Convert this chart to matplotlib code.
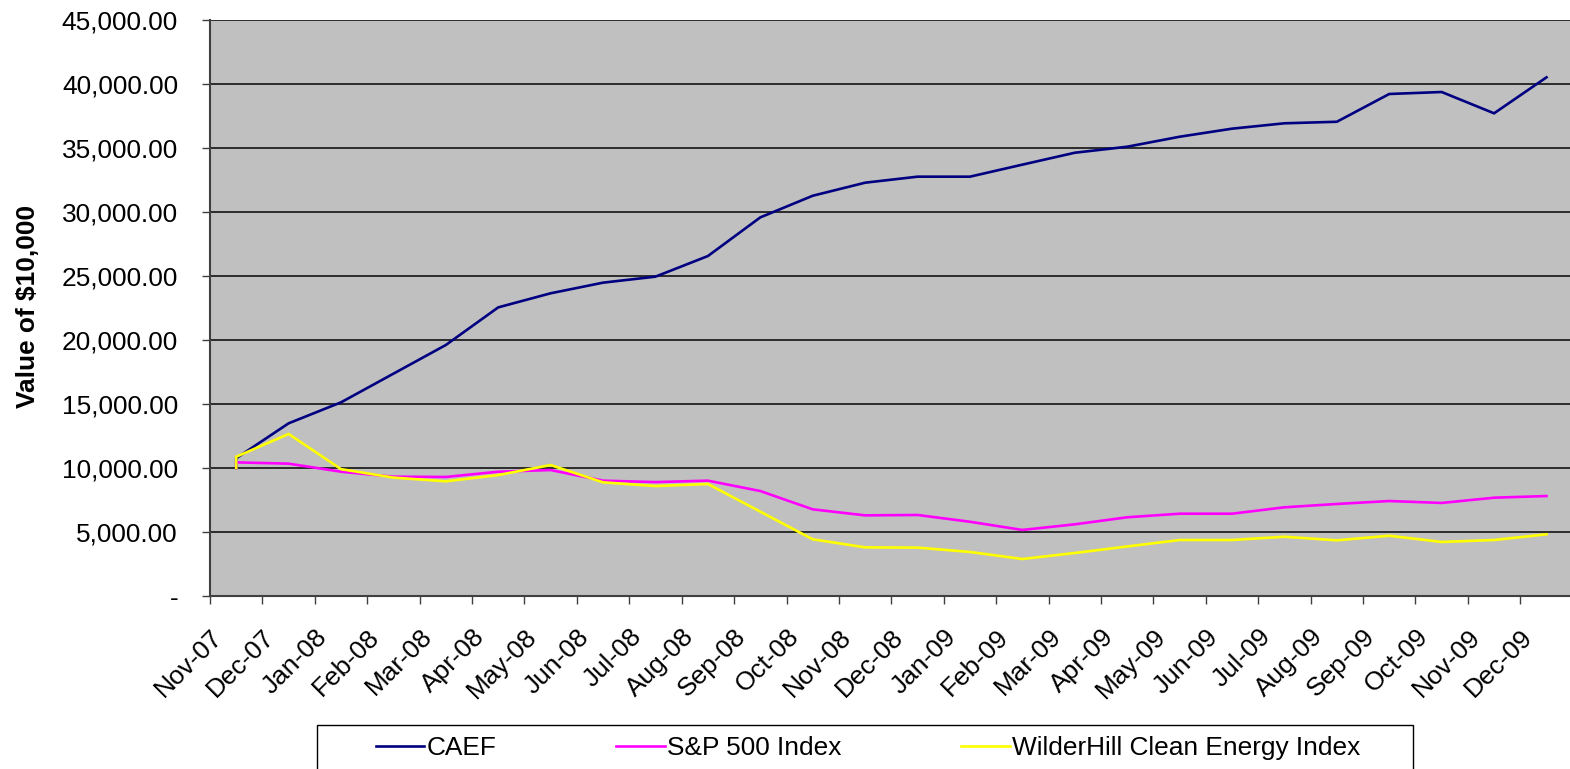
import numpy as np
import matplotlib
matplotlib.use('Agg')
import matplotlib.pyplot as plt
from matplotlib.patches import Rectangle
from matplotlib.ticker import FuncFormatter

plt.rcParams['font.family'] = ['Liberation Sans', 'DejaVu Sans']

# 月份类别
months = ['Nov-07', 'Dec-07', 'Jan-08', 'Feb-08', 'Mar-08', 'Apr-08', 'May-08',
          'Jun-08', 'Jul-08', 'Aug-08', 'Sep-08', 'Oct-08', 'Nov-08', 'Dec-08',
          'Jan-09', 'Feb-09', 'Mar-09', 'Apr-09', 'May-09', 'Jun-09', 'Jul-09',
          'Aug-09', 'Sep-09', 'Oct-09', 'Nov-09', 'Dec-09']

start_value = 10000

caef = [10760, 13490, 15130, 17370, 19610, 22550, 23650, 24480, 24950, 26560,
        29580, 31270, 32290, 32760, 32760, 33700, 34630, 35100, 35880, 36510,
        36930, 37050, 39220, 39375, 37710, 40520]
sp500 = [10440, 10340, 9710, 9320, 9300, 9710, 9840, 9010, 8900, 9010,
         8200, 6770, 6300, 6330, 5800, 5160, 5600, 6150, 6430, 6430,
         6930, 7190, 7420, 7270, 7680, 7810]
wilderhill = [10880, 12660, 9910, 9250, 8960, 9450, 10230, 8880, 8590, 8750,
              6590, 4430, 3800, 3780, 3440, 2890, 3360, 3870, 4375, 4375,
              4630, 4350, 4710, 4220, 4375, 4820]

series_names = ['CAEF', 'S&P 500 Index', 'WilderHill Clean Energy Index']
series_colors = ['#000080', '#FF00FF', '#FFFF00']

FS = 18.9

fig = plt.figure(figsize=(15.70, 7.69), dpi=100)
ax = fig.add_axes([210 / 1570, 1 - 596 / 769, 1362.7 / 1570, 576 / 769])
ax.set_facecolor('#C0C0C0')

# 第一个类别里有起始值10000和月末值两个点
x = [0] + list(range(len(months)))
handles = []
for vals, name, color in zip([caef, sp500, wilderhill], series_names, series_colors):
    h, = ax.plot(x, [start_value] + vals, color=color, lw=1.9, label=name,
                 solid_joinstyle='miter', zorder=3)
    handles.append(h)

ax.set_xlim(-0.5, len(months) - 0.5)
ax.set_ylim(0, 45000)
ax.set_yticks(np.arange(0, 45001, 5000))
ax.yaxis.set_major_formatter(FuncFormatter(lambda v, p: '-' if v == 0 else f'{v:,.2f}'))
ax.grid(axis='y', color='#202020', lw=1.3, zorder=1)
ax.set_axisbelow(True)

ax.set_xticks(np.arange(len(months)) - 0.5)
ax.set_xticklabels(months, rotation=45, ha='right', rotation_mode='anchor')

ax.tick_params(axis='y', direction='out', length=6, width=1, pad=17, labelsize=FS,
               color='#404040')
ax.tick_params(axis='x', direction='out', length=6, width=1, pad=14.5, labelsize=FS,
               color='#404040')
for s in ['top', 'right']:
    ax.spines[s].set_visible(False)
for s in ['left', 'bottom']:
    ax.spines[s].set_color('#404040')
    ax.spines[s].set_linewidth(1.5)

fig.text(28 / 1570, 1 - 306 / 769, 'Value of $10,000', rotation=90, fontsize=FS,
         fontweight='bold', ha='center', va='center')

# 图例外框
fig.patches.append(Rectangle((317 / 1570, -0.05), (1413 - 317) / 1570, (769 - 725) / 769 + 0.05,
                             transform=fig.transFigure, fill=False, edgecolor='black', lw=1))
fig.legend(handles=handles, loc='center', bbox_to_anchor=(868 / 1570, 1 - 748 / 769),
           ncol=3, frameon=False, fontsize=FS, handlelength=1.85, handletextpad=0.1,
           columnspacing=4.55, borderpad=0)

fig.savefig('out.png', dpi=100)
